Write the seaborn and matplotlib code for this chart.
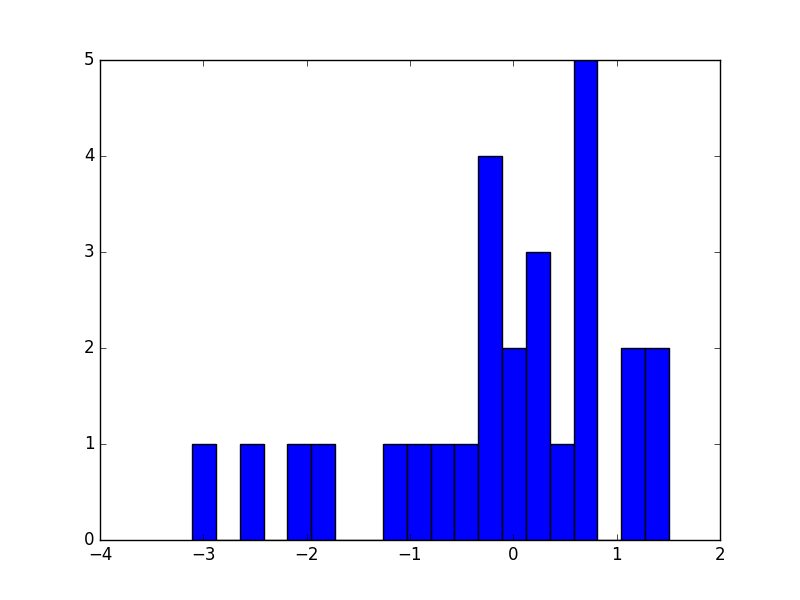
import matplotlib
matplotlib.use("Agg")
import matplotlib.pyplot as plt
import seaborn as sns
import numpy as np
import pandas as pd

# histogram: 20 equal bins between lo and hi
lo, hi = -3.11, 1.507
counts = [1, 0, 1, 0, 1, 1, 0, 0, 1, 1, 1, 1, 4, 2, 3, 1, 5, 0, 2, 2]

edges = np.linspace(lo, hi, len(counts) + 1)
df = pd.DataFrame({'x': (edges[:-1] + edges[1:]) / 2, 'n': counts})

plt.style.use('classic')
fig, ax = plt.subplots(figsize=(8, 6), dpi=100)
fig.patch.set_facecolor('white')
sns.histplot(data=df, x='x', weights='n', bins=list(edges), ax=ax,
             color='#0000ff', alpha=1, edgecolor='black', linewidth=1)
ax.set_xlim(-4, 2)
ax.set_ylim(0, 5)
ax.set_xticks(range(-4, 3))
ax.set_yticks(range(0, 6))
ax.set_xlabel('')
ax.set_ylabel('')
plt.subplots_adjust(left=0.125, right=0.9, bottom=0.1, top=0.9)
plt.savefig("out.png", dpi=100, facecolor='white')
